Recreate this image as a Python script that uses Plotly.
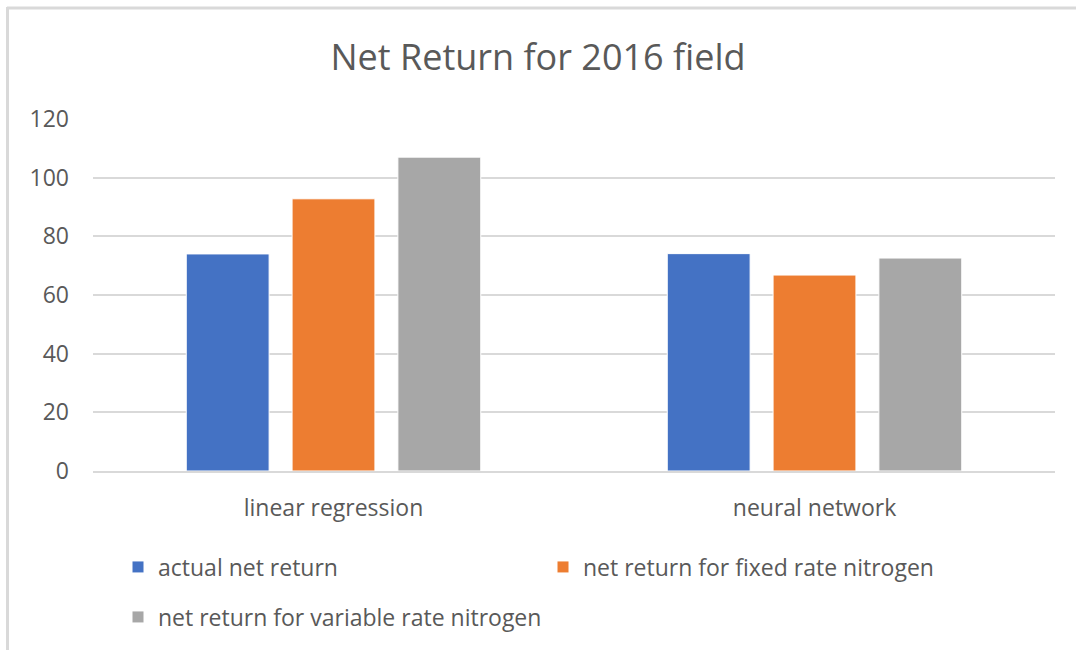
import plotly.graph_objects as go

# Net return per model, for three nitrogen scenarios
models = ["linear regression", "neural network"]
actual_net_return = [74.0, 74.1]
fixed_rate_return = [92.8, 66.8]
variable_rate_return = [107.0, 72.6]

series_names = [
    "actual net return",
    "net return for fixed rate nitrogen",
    "net return for variable rate nitrogen",
]
series_colors = ["#4472C4", "#ED7D31", "#A7A7A7"]
series_legends = ["legend", "legend", "legend2"]

y_ticks = [0, 20, 40, 60, 80, 100, 120]

text_color = "#595959"
grid_color = "#D9D9D9"
font_family = "Open Sans, Lato, sans-serif"

fig = go.Figure()
for name, values, color, leg in zip(
    series_names,
    [actual_net_return, fixed_rate_return, variable_rate_return],
    series_colors,
    series_legends,
):
    fig.add_trace(
        go.Bar(
            name=name,
            x=models,
            y=values,
            marker=dict(color=color, line=dict(color="white", width=1)),
            legend=leg,
        )
    )

legend_font = dict(family=font_family, size=23, color=text_color)

fig.update_layout(
    width=1076,
    height=650,
    margin=dict(l=93, r=21, t=119, b=179),
    paper_bgcolor="white",
    plot_bgcolor="white",
    barmode="group",
    bargap=0.34,
    bargroupgap=0.217,
    title=dict(
        text="Net Return for 2016 field",
        x=0.5,
        xanchor="center",
        y=1 - 57 / 650,
        yanchor="middle",
        font=dict(family=font_family, size=36, color=text_color),
    ),
    font=dict(family=font_family, color=text_color),
    xaxis=dict(
        showgrid=False,
        showline=True,
        linecolor=grid_color,
        linewidth=2,
        tickfont=dict(family=font_family, size=23, color=text_color),
        ticks="",
        ticklabelstandoff=15,
    ),
    yaxis=dict(
        range=[0, 120],
        tickvals=y_ticks,
        showgrid=True,
        gridcolor=grid_color,
        gridwidth=2,
        zeroline=False,
        showline=False,
        tickfont=dict(family=font_family, size=23, color=text_color),
        ticks="",
        ticklabelstandoff=23,
    ),
    legend=dict(
        orientation="h",
        x=(118 - 93) / 962,
        xanchor="left",
        y=(471 - 567) / 352,
        yanchor="middle",
        entrywidth=380,
        entrywidthmode="pixels",
        font=legend_font,
        bgcolor="rgba(0,0,0,0)",
        traceorder="normal",
    ),
    legend2=dict(
        orientation="h",
        x=(118 - 93) / 962,
        xanchor="left",
        y=(471 - 617) / 352,
        yanchor="middle",
        font=legend_font,
        bgcolor="rgba(0,0,0,0)",
    ),
    shapes=[
        # chart frame edges
        dict(type="line", xref="paper", yref="paper",
             x0=(7 - 93) / 962, x1=(1076 - 93) / 962,
             y0=(471 - 8) / 352, y1=(471 - 8) / 352,
             line=dict(color=grid_color, width=3)),
        dict(type="line", xref="paper", yref="paper",
             x0=(7.5 - 93) / 962, x1=(7.5 - 93) / 962,
             y0=(471 - 7) / 352, y1=(471 - 650) / 352,
             line=dict(color=grid_color, width=3)),
    ],
)

fig.write_html("out.html")
